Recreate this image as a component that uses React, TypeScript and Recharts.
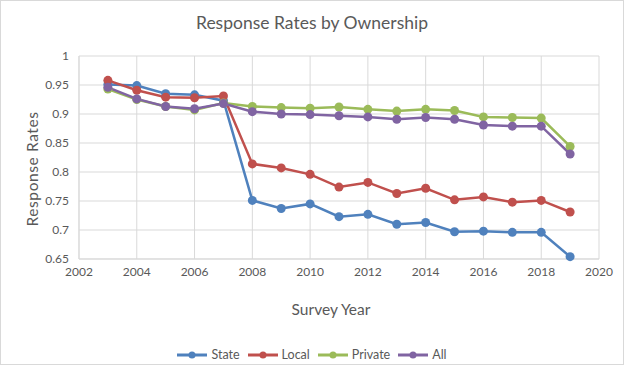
import { LineChart, Line, XAxis, YAxis, CartesianGrid, Legend } from "recharts";

const years = [2003, 2004, 2005, 2006, 2007, 2008, 2009, 2010, 2011, 2012, 2013, 2014, 2015, 2016, 2017, 2018, 2019];
const state = [0.951, 0.949, 0.935, 0.933, 0.923, 0.751, 0.737, 0.745, 0.723, 0.727, 0.71, 0.713, 0.697, 0.698, 0.696, 0.696, 0.654];
const local = [0.958, 0.941, 0.929, 0.928, 0.931, 0.814, 0.807, 0.796, 0.774, 0.782, 0.763, 0.772, 0.752, 0.757, 0.748, 0.751, 0.731];
const privateRates = [0.943, 0.925, 0.913, 0.907, 0.919, 0.913, 0.911, 0.91, 0.912, 0.908, 0.905, 0.908, 0.906, 0.895, 0.894, 0.893, 0.844];
const allRates = [0.946, 0.926, 0.913, 0.909, 0.918, 0.904, 0.9, 0.899, 0.897, 0.895, 0.891, 0.894, 0.891, 0.881, 0.879, 0.879, 0.831];

const xTicks = [2002, 2004, 2006, 2008, 2010, 2012, 2014, 2016, 2018, 2020];
const yTicks = [0.65, 0.7, 0.75, 0.8, 0.85, 0.9, 0.95, 1];

const SERIES = [
  { key: "state", name: "State", color: "#4F81BD" },
  { key: "local", name: "Local", color: "#C0504D" },
  { key: "private", name: "Private", color: "#9BBB59" },
  { key: "all", name: "All", color: "#8064A2" },
];

const FONT = "Lato, 'Open Sans', sans-serif";
const TEXT = "#595959";

const rows = years.map((y, i) => ({
  year: y,
  state: state[i],
  local: local[i],
  private: privateRates[i],
  all: allRates[i],
}));

function LegendContent() {
  return (
    <div style={{ display: "flex", justifyContent: "center", gap: 8, fontFamily: FONT, fontSize: 12.5, color: TEXT }}>
      {SERIES.map((s) => (
        <div key={s.key} style={{ display: "flex", alignItems: "center", gap: 4 }}>
          <svg width={30} height={10}>
            <line x1={0} y1={5} x2={30} y2={5} stroke={s.color} strokeWidth={3} />
            <circle cx={15} cy={5} r={3.5} fill={s.color} />
          </svg>
          <span>{s.name}</span>
        </div>
      ))}
    </div>
  );
}

export default function App() {
  return (
    <div style={{ position: "absolute", left: 0, top: 0, width: 624, height: 365, background: "#fff", fontFamily: FONT }}>
      <div style={{ position: "absolute", inset: 0, border: "1px solid #d9d9d9", boxSizing: "border-box", pointerEvents: "none" }} />
      <div style={{ position: "absolute", top: 12, left: 0, width: 624, textAlign: "center", fontSize: 17.5, color: TEXT }}>
        Response Rates by Ownership
      </div>
      <div
        style={{
          position: "absolute",
          left: 32,
          top: 169,
          transform: "translate(-50%, -50%) rotate(-90deg)",
          fontSize: 15.5,
          letterSpacing: 0.6,
          color: TEXT,
          whiteSpace: "nowrap",
        }}
      >
        Response Rates
      </div>
      <div
        style={{
          position: "absolute",
          left: 331,
          top: 309,
          transform: "translate(-50%, -50%)",
          fontSize: 15.5,
          color: TEXT,
          whiteSpace: "nowrap",
        }}
      >
        Survey Year
      </div>
      <LineChart width={624} height={365} data={rows} margin={{ top: 56, right: 25, bottom: 61, left: 0 }}>
        <CartesianGrid stroke="#d9d9d9" />
        <XAxis
          dataKey="year"
          type="number"
          domain={[2002, 2020]}
          ticks={xTicks}
          tickLine={false}
          axisLine={{ stroke: "#d9d9d9" }}
          height={30}
          tick={{ fontSize: 12, fill: TEXT, fontFamily: FONT }}
          tickMargin={2}
        />
        <YAxis
          type="number"
          domain={[0.65, 1]}
          ticks={yTicks}
          width={79}
          tickLine={false}
          axisLine={{ stroke: "#d9d9d9" }}
          tick={{ fontSize: 12, fill: TEXT, fontFamily: FONT }}
          tickMargin={4}
        />
        <Legend
          verticalAlign="bottom"
          content={<LegendContent />}
          wrapperStyle={{ bottom: 3, left: 0, width: 624 }}
        />
        {SERIES.map((s) => (
          <Line
            key={s.key}
            dataKey={s.key}
            name={s.name}
            stroke={s.color}
            strokeWidth={2.5}
            dot={{ r: 4.5, fill: s.color, stroke: s.color, strokeWidth: 0 }}
            isAnimationActive={false}
          />
        ))}
      </LineChart>
    </div>
  );
}
